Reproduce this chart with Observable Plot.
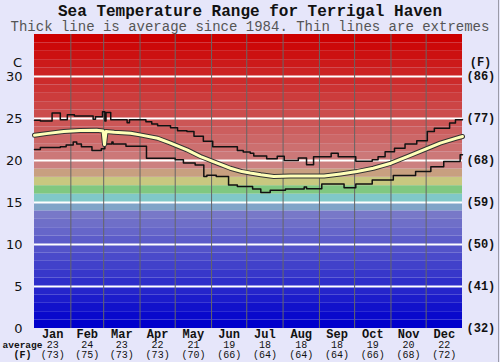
<!DOCTYPE html>
<html>
<head>
<meta charset="utf-8">
<script src="https://cdn.jsdelivr.net/npm/d3@7"></script>
<script src="https://cdn.jsdelivr.net/npm/@observablehq/plot@0.6"></script>
<style>
  html, body { margin: 0; padding: 0; background: #e6e6fa; }
  #wrap { width: 500px; height: 362px; position: relative; overflow: hidden; background: #e6e6fa; }
  #wrap::after { content: ""; position: absolute; right: 1px; top: 0; width: 1px; height: 362px; background: #9a9aa8; }
  .title { font-family: "Liberation Mono", monospace; font-weight: bold; font-size: 16px; line-height: 14px; height: 14px; padding-top: 5px; text-align: center; color: #111; }
  .subtitle { font-family: "Liberation Mono", monospace; font-size: 14px; line-height: 14px; height: 14px; padding-top: 1px; text-align: center; color: #555; white-space: nowrap; }
  svg { display: block; }
</style>
</head>
<body>
<div id="wrap">
  <div class="title">Sea Temperature Range for Terrigal Haven</div>
  <div class="subtitle">Thick line is average since 1984. Thin lines are extremes</div>
  <div id="chart"></div>
</div>
<script>
// ---- data ----
const months = ["Jan","Feb","Mar","Apr","May","Jun","Jul","Aug","Sep","Oct","Nov","Dec"];
const monthDays = [31,28,31,30,31,30,31,31,30,31,30,31];
const avgC = [23,24,23,22,21,19,18,18,18,19,20,22];
const avgF = [73,75,73,73,70,66,64,64,64,66,68,72];
const ticksC = [0,5,10,15,20,25,30];
const ticksF = [32,41,50,59,68,77,86];

// daily extremes: [day of year, °C]
const maxSeries = [
  [0,24.8],[5,24.7],[15,25.65],[22,24.85],[28,25.45],[34,25.3],[50,24.9],[52,25.2],[58,25.8],[60,24.7],[61,25.7],[65,24.85],[79,24.5],[81,24.85],
  [95,24.6],[100,24.35],[105,24.15],[116,23.9],[122,23.55],[130,23.45],[136,22.9],[144,22.3],[152,21.65],[173,21.2],[178,21.0],[184,20.85],
  [187,20.55],[198,20.2],[207,20.5],[213,20.0],[225,20.3],[232,19.5],[238,20.45],[253,20.85],[259,20.45],[274,19.9],[288,20.1],[293,20.45],
  [299,21.05],[307,21.45],[316,21.95],[326,22.35],[335,23.45],[341,23.85],[354,24.45],[359,24.85],[365,24.85]
];
const minSeries = [
  [0,21.3],[5,21.55],[22,21.65],[27,21.85],[33,22.2],[36,21.95],[40,21.65],[49,21.2],[57,21.4],[60,21.95],[66,22.2],[67,21.95],[78,21.7],
  [95.5,20.27],[120,20.1],[127,19.7],[137,19.45],[144.4,18.1],[147,18.25],[155,18.1],[165.5,17.08],[173,16.9],[186,16.6],[193,16.2],
  [201,16.45],[214,16.6],[230,16.85],[232,16.65],[245,17.2],[264,16.75],[274,17.2],[288,17.68],[306,18.2],[325,18.68],[338,19.27],
  [349,19.87],[363,20.67],[365,20.67]
];
const avgSeries = [
  [0,23.0],[10,23.2],[25,23.45],[39,23.57],[53,23.6],[58.5,23.5],[59.7,21.9],[61,23.45],[68,23.35],[82,23.25],[90,23.05],[105,22.65],
  [116,22.07],[130,21.27],[141.6,20.47],[155.8,19.68],[167,19.08],[177,18.68],[184,18.5],[193,18.3],[204,18.1],[218,18.15],[247,18.15],
  [261,18.4],[275,18.68],[289,19.08],[304,19.68],[318,20.47],[332,21.27],[346,22.07],[360,22.66],[365,22.86]
];

// ---- derived ----
const monthStart = d3.cumsum([0, ...monthDays.slice(0, -1)]);
const monthEnds = d3.cumsum(monthDays).slice(0, -1);
const monthMid = monthStart.map((s, i) => s + monthDays[i] / 2);
const bands = d3.range(0, 35);

const blue = d3.interpolateRgb("#0000cc", "#7878c8");
const red = d3.interpolateRgb("#cc7878", "#cc0000");
const special = {14: "#80a4c8", 15: "#80c8c8", 16: "#80c880", 17: "#c8c880", 18: "#c8a080", 19: "#cc8080"};
function bandColor(t) {
  if (special[t]) return special[t];
  if (t < 14) return blue(t / 13);
  return red((t - 20) / 14);
}

const mono = "Liberation Mono, monospace";
const base = {lineAnchor: "middle", fill: "#111"};
const plot = Plot.plot({
  width: 500,
  height: 328,
  marginTop: 0,
  marginBottom: 34,
  marginLeft: 34,
  marginRight: 38,
  x: {domain: [0, 365], axis: null},
  y: {domain: [0, 35], axis: null},
  color: {type: "identity"},
  style: {background: "transparent", overflow: "visible"},
  marks: [
    Plot.rectY(bands, {y1: d => d, y2: d => d + 1, fill: d => bandColor(d)}),
    Plot.ruleY(ticksC.slice(1), {stroke: "white", strokeWidth: 2}),
    Plot.ruleX(monthEnds, {stroke: "#666", strokeWidth: 1}),
    Plot.line(maxSeries, {x: d => d[0], y: d => d[1], curve: "step-after", stroke: "#111", strokeWidth: 1.5}),
    Plot.line(minSeries, {x: d => d[0], y: d => d[1], curve: "step-after", stroke: "#111", strokeWidth: 1.5}),
    Plot.line(avgSeries, {x: d => d[0], y: d => d[1], stroke: "#333", strokeWidth: 5}),
    Plot.line(avgSeries, {x: d => d[0], y: d => d[1], stroke: "#ffffb8", strokeWidth: 3}),
    // left axis (C)
    Plot.text(ticksC, {...base, y: d => d, text: d => String(d), frameAnchor: "left", textAnchor: "end", dx: -12, fontSize: 13, fontFamily: "DejaVu Sans"}),
    Plot.text(["C"], {...base, frameAnchor: "top-left", textAnchor: "middle", dx: -17, dy: 28, fontSize: 13, fontFamily: "DejaVu Sans"}),
    // right axis (F)
    Plot.text(ticksC, {...base, y: d => d, text: (d, i) => `(${ticksF[i]})`, frameAnchor: "right", textAnchor: "start", dx: 4, fontSize: 12, fontWeight: "bold", fontFamily: mono}),
    Plot.text(["(F)"], {...base, frameAnchor: "top-right", textAnchor: "middle", dx: 18, dy: 28, fontSize: 12, fontWeight: "bold", fontFamily: mono}),
    // bottom month labels
    Plot.text(months, {...base, x: (d, i) => monthMid[i], text: d => d, frameAnchor: "bottom", dy: 6, fontSize: 12, fontWeight: "bold", fontFamily: mono}),
    Plot.text(avgC, {...base, x: (d, i) => monthMid[i], text: d => String(d), frameAnchor: "bottom", dy: 16.5, fontSize: 10, fontFamily: mono}),
    Plot.text(avgF, {...base, x: (d, i) => monthMid[i], text: d => `(${d})`, frameAnchor: "bottom", dy: 26, fontSize: 10, fontFamily: mono}),
    Plot.text(["average"], {...base, frameAnchor: "bottom-left", textAnchor: "middle", dx: -12, dy: 16.5, fontSize: 9.5, fontWeight: "bold", fontFamily: mono}),
    Plot.text(["(F)"], {...base, frameAnchor: "bottom-left", textAnchor: "middle", dx: -12, dy: 26, fontSize: 10, fontWeight: "bold", fontFamily: mono})
  ]
});
document.getElementById("chart").appendChild(plot);
</script>
</body>
</html>
